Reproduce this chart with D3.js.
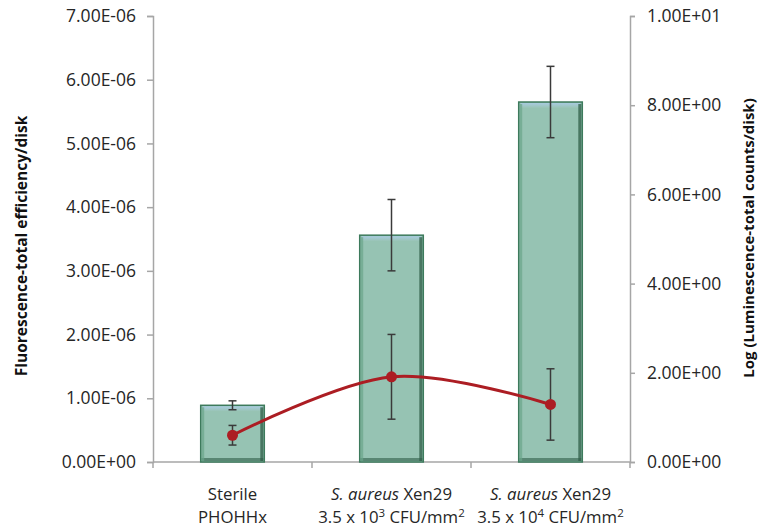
<!DOCTYPE html>
<html><head><meta charset="utf-8">
<script src="https://cdn.jsdelivr.net/npm/d3@7"></script>
<style>body{margin:0;background:#fff}svg{display:block}text{font-family:"Open Sans",sans-serif}</style>
</head><body><svg id="c" width="763" height="531"></svg>
<script>
const categories = ["Sterile PHOHHx", "S. aureus Xen29 3.5e3", "S. aureus Xen29 3.5e4"];
const fluorescence = [0.89e-6, 3.56e-6, 5.65e-6];
const fluorescenceErr = [0.07e-6, 0.56e-6, 0.56e-6];
const luminescence = [0.60, 1.91, 1.29];
const luminescenceErr = [0.22, 0.95, 0.80];
const leftTicks = [0, 1e-6, 2e-6, 3e-6, 4e-6, 5e-6, 6e-6, 7e-6];
const rightTicks = [0, 2, 4, 6, 8, 10];

const svg = d3.select("#c");
const L = 153, R = 630, T = 16, B = 462;
const x = d3.scaleBand().domain(categories).range([L, R]).paddingInner(0.6).paddingOuter(0.3);
const xc = d => x(d) + x.bandwidth() / 2;
const yL = d3.scaleLinear().domain([0, 7e-6]).range([B, T]);
const yR = d3.scaleLinear().domain([0, 10]).range([B, T]);

const defs = svg.append("defs");
const g = defs.append("linearGradient").attr("id", "topg").attr("x1", 0).attr("y1", 0).attr("x2", 0).attr("y2", 1);
g.append("stop").attr("offset", 0).attr("stop-color", "#a9cbe0");
g.append("stop").attr("offset", 1).attr("stop-color", "#98c4b4");

const fmtL = v => v === 0 ? "0.00E+00" : (v / 1e-6).toFixed(2) + "E-06";
const fmtR = v => { if (v === 0) return "0.00E+00"; if (v >= 10) return (v/10).toFixed(2) + "E+01"; return v.toFixed(2) + "E+00"; };

const axisColor = "#a6a6a6";
const FS = 17.5, FC = 16.8;
const la = svg.append("g").attr("transform", `translate(${L},0)`)
  .call(d3.axisLeft(yL).tickValues(leftTicks).tickFormat(fmtL).tickSize(6).tickPadding(11));
const ra = svg.append("g").attr("transform", `translate(${R},0)`)
  .call(d3.axisRight(yR).tickValues(rightTicks).tickFormat(fmtR).tickSize(5).tickPadding(12));
[la, ra].forEach(a => {
  a.attr("font-size", FS).attr("font-family", "Open Sans");
  a.select(".domain").attr("stroke", axisColor).attr("stroke-width", 1.5);
  a.selectAll(".tick line").attr("stroke", axisColor).attr("stroke-width", 1.5);
  a.selectAll(".tick text").attr("fill", "#262626").attr("font-size", FS).style("font-size", FS + "px");
});
// x axis
const xa = svg.append("g");
xa.append("line").attr("x1", L).attr("x2", R).attr("y1", B).attr("y2", B).attr("stroke", axisColor).attr("stroke-width", 1.5);
const bounds = [L].concat(categories.map(c => x(c) + x.bandwidth() + x.step() * x.paddingInner() / 2));
bounds.forEach(b => xa.append("line").attr("x1", b).attr("x2", b).attr("y1", B).attr("y2", B + 6).attr("stroke", axisColor).attr("stroke-width", 1.5));

// bars
const bars = svg.append("g");
categories.forEach((c, i) => {
  const x0 = x(c), w = x.bandwidth(), y0 = yL(fluorescence[i]), h = B - y0;
  bars.append("rect").attr("x", x0).attr("y", y0).attr("width", w).attr("height", h).attr("fill", "#96c3b3").attr("stroke", "#3d7a5c").attr("stroke-width", 1.5);
  bars.append("rect").attr("x", x0 + 2).attr("y", y0 + 1).attr("width", w - 4).attr("height", 5).attr("fill", "url(#topg)");
  bars.append("rect").attr("x", x0 + w - 4).attr("y", y0 + 2).attr("width", 3).attr("height", h - 3).attr("fill", "#2f5e47").attr("opacity", 0.75);
  bars.append("rect").attr("x", x0 + 1).attr("y", B - 4).attr("width", w - 2).attr("height", 3).attr("fill", "#2f5e47").attr("opacity", 0.6);
  bars.append("rect").attr("x", x0 + 1).attr("y", y0 + 2).attr("width", 2.5).attr("height", h - 3).attr("fill", "#6aa58a").attr("opacity", 0.7);
});

function errBar(cx, yv, e, scale) {
  const gg = svg.append("g").attr("stroke", "#3a3a3a").attr("stroke-width", 1.5);
  const y1 = scale(yv + e), y2 = scale(yv - e);
  gg.append("line").attr("x1", cx).attr("x2", cx).attr("y1", y1).attr("y2", y2);
  gg.append("line").attr("x1", cx - 4).attr("x2", cx + 4).attr("y1", y1).attr("y2", y1);
  gg.append("line").attr("x1", cx - 4).attr("x2", cx + 4).attr("y1", y2).attr("y2", y2);
}
categories.forEach((c, i) => errBar(xc(c), fluorescence[i], fluorescenceErr[i], yL));

// line
const lineGen = d3.line().x((d, i) => xc(categories[i])).y(d => yR(d)).curve(d3.curveCatmullRom.alpha(0));
svg.append("path").attr("d", lineGen(luminescence)).attr("fill", "none").attr("stroke", "#ac1d23").attr("stroke-width", 3);
categories.forEach((c, i) => errBar(xc(c), luminescence[i], luminescenceErr[i], yR));
svg.selectAll("circle.pt").data(luminescence).enter().append("circle")
  .attr("cx", (d, i) => xc(categories[i])).attr("cy", d => yR(d)).attr("r", 5.5).attr("fill", "#ac1d23");

// axis titles
svg.append("text").attr("transform", `translate(27,246) rotate(-90)`).attr("text-anchor", "middle")
  .style("font-size", "15.5px").style("font-weight", "bold").attr("fill", "#111").text("Fluorescence-total efficiency/disk");
svg.append("text").attr("transform", `translate(754,238) rotate(-90)`).attr("text-anchor", "middle")
  .style("font-size", "15px").style("font-weight", "bold").attr("fill", "#111").text("Log (Luminescence-total counts/disk)");

// category labels
const lab = svg.append("g").style("font-size", FC + "px").attr("fill", "#262626").attr("text-anchor", "middle");
const c0 = xc(categories[0]), c1 = xc(categories[1]), c2 = xc(categories[2]);
lab.append("text").attr("x", c0).attr("y", 500).text("Sterile");
lab.append("text").attr("x", c0).attr("y", 523).text("PHOHHx");
[[c1, "3"], [c2, "4"]].forEach(([cx, ex]) => {
  const t1 = lab.append("text").attr("x", cx).attr("y", 500);
  t1.append("tspan").style("font-style", "italic").text("S. aureus");
  t1.append("tspan").text(" Xen29");
  const t2 = lab.append("text").attr("x", cx).attr("y", 523);
  t2.append("tspan").text("3.5 x 10");
  t2.append("tspan").attr("dy", -6).style("font-size", "11.5px").text(ex);
  t2.append("tspan").attr("dy", 6).text(" CFU/mm");
  t2.append("tspan").attr("dy", -6).style("font-size", "11.5px").text("2");
});
</script></body></html>
